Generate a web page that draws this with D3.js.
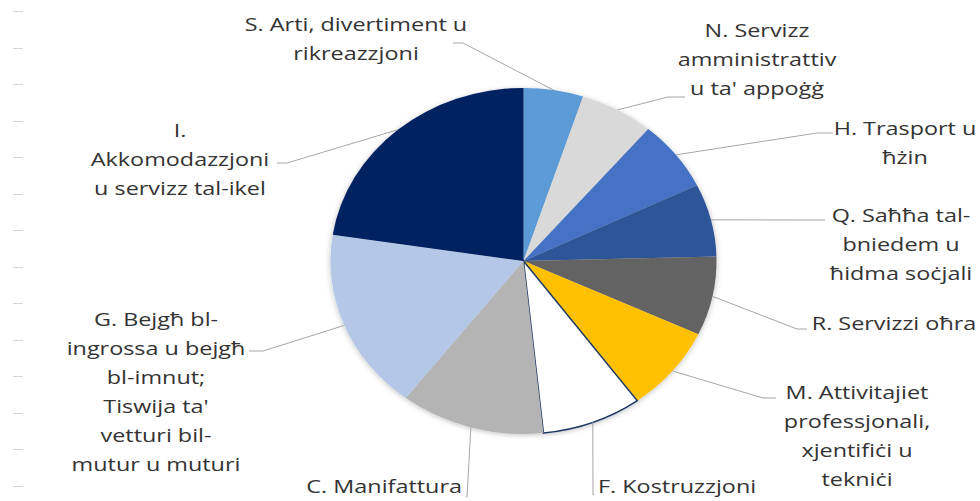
<!DOCTYPE html>
<html>
<head>
<meta charset="utf-8">
<script src="https://cdn.jsdelivr.net/npm/d3@7"></script>
<style>
  body { margin: 0; background: #fff; }
  svg { display: block; }
  .lbl { font-family: "Open Sans", sans-serif; font-size: 18px; fill: #333333; }
</style>
</head>
<body>
<div id="chart"></div>
<script>
// sectors, clockwise from 12 o'clock (share of total, %)
var categories = ["S", "N", "H", "Q", "R", "M", "F", "C", "G", "I"];
var labels = [
  ["S. Arti, divertiment u", "rikreazzjoni"],
  ["N. Servizz", "amministrattiv", "u ta' appoġġ"],
  ["H. Trasport u", "ħżin"],
  ["Q. Saħħa tal-", "bniedem u", "ħidma soċjali"],
  ["R. Servizzi oħra"],
  ["M. Attivitajiet", "professjonali,", "xjentifiċi u", "tekniċi"],
  ["F. Kostruzzjoni"],
  ["C. Manifattura"],
  ["G. Bejgħ bl-", "ingrossa u bejgħ", "bl-imnut;", "Tiswija ta'", "vetturi bil-", "mutur u muturi"],
  ["I.", "Akkomodazzjoni", "u servizz tal-ikel"]
];
var values = [5.0, 6.2, 6.6, 6.8, 7.4, 8.0, 8.4, 12.1, 17.0, 22.6];
var colors = ["#5b9bd5", "#d9d9d9", "#4472c4", "#2f5597", "#636363",
              "#ffc000", "#ffffff", "#b4b4b4", "#b4c7e7", "#002060"];

var width = 980, height = 501;
var cx = 523.5, cy = 261, rx = 193, ry = 173;

// label placement: text centre/start x, first baseline, anchor, leader elbow
var labelPos = [
  {x: 356, y: 31,  anchor: "middle", lead: [[463, 43], [453, 43]]},
  {x: 757, y: 37,  anchor: "middle", lead: [[668, 97], [685, 97]]},
  {x: 905, y: 135, anchor: "middle", lead: [[817, 133], [833, 133]]},
  {x: 901, y: 222, anchor: "middle", lead: [[812, 220], [825, 220]]},
  {x: 894, y: 330, anchor: "middle", lead: [[797, 329], [807, 329]]},
  {x: 857, y: 399, anchor: "middle", lead: [[763, 398], [776, 398]]},
  {x: 598, y: 493, anchor: "start",  lead: [[593, 495], [594, 495]]},
  {x: 462, y: 493, anchor: "end",    lead: [[467, 497], [466, 497]]},
  {x: 156, y: 326, anchor: "middle", lead: [[263, 351], [249, 351]]},
  {x: 180, y: 137, anchor: "middle", lead: [[287, 163], [277, 163]]}
];

var svg = d3.select("#chart")
  .append("svg")
  .attr("width", width)
  .attr("height", height);

var defs = svg.append("defs");
var shadow = defs.append("filter")
  .attr("id", "shadow")
  .attr("x", "-10%").attr("y", "-10%")
  .attr("width", "120%").attr("height", "120%");
shadow.append("feGaussianBlur").attr("in", "SourceAlpha").attr("stdDeviation", 3).attr("result", "b");
shadow.append("feOffset").attr("in", "b").attr("dx", 0).attr("dy", 1).attr("result", "o");
shadow.append("feComponentTransfer").attr("in", "o").attr("result", "s")
  .append("feFuncA").attr("type", "linear").attr("slope", 0.25);
var merge = shadow.append("feMerge");
merge.append("feMergeNode").attr("in", "s");
merge.append("feMergeNode").attr("in", "SourceGraphic");

// faint dashes down the left edge
var tickY = d3.scaleLinear().domain([0, 13]).range([11, 485.7]);
svg.append("g")
  .selectAll("line")
  .data(d3.range(14))
  .enter().append("line")
  .attr("x1", 13).attr("x2", 23)
  .attr("y1", function (d) { return Math.round(tickY(d)) + 0.5; })
  .attr("y2", function (d) { return Math.round(tickY(d)) + 0.5; })
  .style("stroke", "#d4d4d4")
  .style("stroke-width", 1);

var pie = d3.pie().sort(null).value(function (d) { return d; });
var arcs = pie(values);

var arc = d3.arc().innerRadius(0).outerRadius(rx);

var g = svg.append("g")
  .attr("transform", "translate(" + cx + "," + cy + ") scale(1," + (ry / rx) + ")")
  .attr("filter", "url(#shadow)");

g.selectAll("path")
  .data(arcs)
  .enter().append("path")
  .attr("d", arc)
  .attr("fill", function (d, i) { return colors[i]; })
  .attr("stroke", function (d, i) { return categories[i] === "F" ? "#1f3864" : "none"; })
  .attr("stroke-width", 1.5)
  .attr("vector-effect", "non-scaling-stroke");

// leader lines from the edge of each slice
function edgePoint(d) {
  var a = (d.startAngle + d.endAngle) / 2;
  return [cx + rx * Math.sin(a), cy - ry * Math.cos(a)];
}

svg.append("g")
  .selectAll("polyline")
  .data(arcs)
  .enter().append("polyline")
  .attr("points", function (d, i) {
    var p = [edgePoint(d)].concat(labelPos[i].lead);
    return p.map(function (q) { return q.join(","); }).join(" ");
  })
  .style("fill", "none")
  .style("stroke", "#a6a6a6")
  .style("stroke-width", 1);

var lg = svg.append("g")
  .selectAll("text")
  .data(arcs)
  .enter().append("text")
  .attr("class", "lbl")
  .attr("text-anchor", function (d, i) { return labelPos[i].anchor; })
  .attr("transform", function (d, i) {
    return "translate(" + labelPos[i].x + "," + labelPos[i].y + ") scale(1.3,1)";
  });

lg.each(function (d, i) {
  var t = d3.select(this);
  labels[i].forEach(function (line, k) {
    t.append("tspan")
      .attr("x", 0)
      .attr("y", k * 29)
      .text(line);
  });
});
</script>
</body>
</html>
